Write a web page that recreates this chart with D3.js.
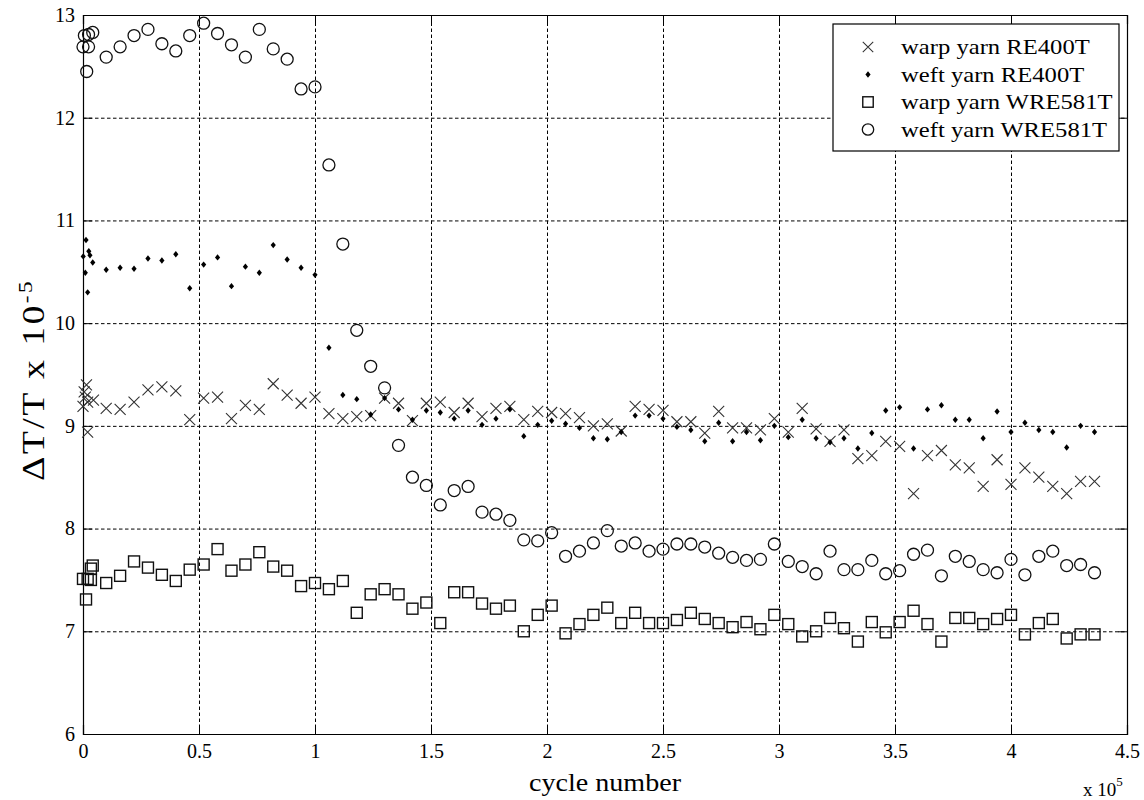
<!DOCTYPE html>
<html>
<head>
<meta charset="utf-8">
<script src="https://cdn.jsdelivr.net/npm/d3@7"></script>
<style>
  body { margin: 0; background: #fff; }
  svg { display: block; }
  svg text { font-family: "Liberation Serif", "Times New Roman", Times, serif; fill: #000; }
  .grid line { stroke: #000; stroke-dasharray: 3.5,2.5; }
  .grid path { display: none; }
  .axis path, .axis line { stroke: #000; }
</style>
</head>
<body>
<svg id="chart" width="1144" height="800"></svg>
<script>
// regular sampling, cycle number in units of 1e5
var cycles = [0.10, 0.16, 0.22, 0.28, 0.34, 0.40, 0.46, 0.52, 0.58, 0.64, 0.70, 0.76,
  0.82, 0.88, 0.94, 1.00, 1.06, 1.12, 1.18, 1.24, 1.30, 1.36, 1.42, 1.48,
  1.54, 1.60, 1.66, 1.72, 1.78, 1.84, 1.90, 1.96, 2.02, 2.08, 2.14, 2.20,
  2.26, 2.32, 2.38, 2.44, 2.50, 2.56, 2.62, 2.68, 2.74, 2.80, 2.86, 2.92,
  2.98, 3.04, 3.10, 3.16, 3.22, 3.28, 3.34, 3.40, 3.46, 3.52, 3.58, 3.64,
  3.70, 3.76, 3.82, 3.88, 3.94, 4.00, 4.06, 4.12, 4.18, 4.24, 4.30, 4.36];

var warpRE400T = [9.17, 9.16, 9.23, 9.35, 9.38, 9.34, 9.06, 9.27, 9.28, 9.07, 9.20, 9.16,
  9.41, 9.30, 9.22, 9.28, 9.12, 9.07, 9.09, 9.10, 9.27, 9.22, 9.05, 9.22,
  9.23, 9.13, 9.22, 9.09, 9.17, 9.19, 9.06, 9.14, 9.13, 9.12, 9.08, 9.00,
  9.02, 8.95, 9.19, 9.16, 9.15, 9.04, 9.04, 8.93, 9.14, 8.98, 8.98, 8.96,
  9.07, 8.94, 9.17, 8.97, 8.85, 8.96, 8.68, 8.71, 8.85, 8.80, 8.34, 8.71,
  8.76, 8.62, 8.59, 8.41, 8.67, 8.43, 8.59, 8.50, 8.41, 8.34, 8.46, 8.46];

var weftRE400T = [10.52, 10.54, 10.53, 10.63, 10.61, 10.67, 10.34, 10.57, 10.64, 10.36, 10.55, 10.49,
  10.76, 10.62, 10.54, 10.47, 9.76, 9.30, 9.26, 9.11, 9.27, 9.16, 9.06, 9.15,
  9.13, 9.07, 9.15, 9.01, 9.07, 9.16, 8.90, 9.01, 9.05, 9.02, 8.98, 8.88,
  8.87, 8.94, 9.10, 9.10, 9.07, 8.99, 8.96, 8.85, 9.03, 8.85, 8.94, 8.86,
  9.00, 8.89, 9.06, 8.88, 8.84, 8.88, 8.78, 8.93, 9.15, 9.18, 8.78, 9.16,
  9.20, 9.06, 9.06, 8.88, 9.14, 8.94, 9.03, 8.96, 8.94, 8.79, 9.00, 8.94];

var warpWRE581T = [7.47, 7.54, 7.68, 7.62, 7.55, 7.49, 7.60, 7.65, 7.80, 7.59, 7.65, 7.77,
  7.63, 7.59, 7.44, 7.47, 7.41, 7.49, 7.18, 7.36, 7.41, 7.36, 7.22, 7.28,
  7.08, 7.38, 7.38, 7.27, 7.22, 7.25, 7.00, 7.16, 7.25, 6.98, 7.07, 7.16,
  7.23, 7.08, 7.18, 7.08, 7.08, 7.11, 7.18, 7.12, 7.08, 7.04, 7.09, 7.02,
  7.16, 7.07, 6.95, 7.00, 7.13, 7.03, 6.90, 7.09, 6.99, 7.09, 7.20, 7.07,
  6.90, 7.13, 7.13, 7.07, 7.12, 7.16, 6.97, 7.08, 7.12, 6.93, 6.97, 6.97];

var weftWRE581T = [12.59, 12.69, 12.80, 12.86, 12.72, 12.65, 12.80, 12.92, 12.82, 12.71, 12.59, 12.86,
  12.67, 12.57, 12.28, 12.30, 11.54, 10.77, 9.93, 9.58, 9.37, 8.81, 8.50, 8.42,
  8.23, 8.37, 8.41, 8.16, 8.14, 8.08, 7.89, 7.88, 7.96, 7.73, 7.78, 7.86,
  7.98, 7.83, 7.86, 7.78, 7.80, 7.85, 7.85, 7.82, 7.76, 7.72, 7.69, 7.70,
  7.85, 7.68, 7.63, 7.56, 7.78, 7.60, 7.60, 7.69, 7.56, 7.59, 7.75, 7.79,
  7.54, 7.73, 7.68, 7.60, 7.57, 7.70, 7.55, 7.73, 7.78, 7.64, 7.65, 7.57];

// first few cycles, measured more densely
var warpRE400TEarlyX = [0.005, 0.015, 0.010, 0.020, 0.000, 0.045, 0.020];
var warpRE400TEarlyY = [9.33, 9.40, 9.28, 9.23, 9.19, 9.25, 8.94];
var weftRE400TEarlyX = [0.013, 0.025, 0.030, 0.001, 0.042, 0.010, 0.020];
var weftRE400TEarlyY = [10.81, 10.70, 10.66, 10.65, 10.59, 10.49, 10.30];
var warpWRE581TEarlyX = [0.000, 0.013, 0.020, 0.034, 0.034, 0.042];
var warpWRE581TEarlyY = [7.51, 7.31, 7.51, 7.50, 7.61, 7.64];
var weftWRE581TEarlyX = [0.000, 0.006, 0.016, 0.024, 0.024, 0.042];
var weftWRE581TEarlyY = [12.69, 12.80, 12.45, 12.69, 12.81, 12.83];

var xTicks = [0, 0.5, 1, 1.5, 2, 2.5, 3, 3.5, 4, 4.5];
var yTicks = [6, 7, 8, 9, 10, 11, 12, 13];
var seriesNames = ['warp yarn RE400T', 'weft yarn RE400T', 'warp yarn WRE581T', 'weft yarn WRE581T'];

function points(earlyX, earlyY, values) {
  var pts = earlyX.map(function(x, i) { return {x: x, y: earlyY[i]}; });
  return pts.concat(values.map(function(v, i) { return {x: cycles[i], y: v}; }));
}

var series = [
  {name: seriesNames[0], marker: 'cross', data: points(warpRE400TEarlyX, warpRE400TEarlyY, warpRE400T)},
  {name: seriesNames[1], marker: 'diamond', data: points(weftRE400TEarlyX, weftRE400TEarlyY, weftRE400T)},
  {name: seriesNames[2], marker: 'square', data: points(warpWRE581TEarlyX, warpWRE581TEarlyY, warpWRE581T)},
  {name: seriesNames[3], marker: 'circle', data: points(weftWRE581TEarlyX, weftWRE581TEarlyY, weftWRE581T)}
];

var svg = d3.select('#chart');
var margin = {left: 83, top: 15, right: 17, bottom: 66};
var width = 1144 - margin.left - margin.right;
var height = 800 - margin.top - margin.bottom;

var x = d3.scaleLinear().domain([0, 4.5]).range([0, width]);
var y = d3.scaleLinear().domain([6, 13]).range([height, 0]);

var g = svg.append('g')
  .attr('transform', 'translate(' + margin.left + ',' + margin.top + ')');

// dotted grid
g.append('g')
  .attr('class', 'grid')
  .attr('transform', 'translate(0,' + height + ')')
  .call(d3.axisBottom(x).tickValues(xTicks).tickSize(-height).tickFormat(''));
g.append('g')
  .attr('class', 'grid')
  .call(d3.axisLeft(y).tickValues(yTicks).tickSize(-width).tickFormat(''));

// box with inward ticks on all sides
var fmt = d3.format('');
g.append('g')
  .attr('class', 'axis')
  .attr('transform', 'translate(0,' + height + ')')
  .call(d3.axisBottom(x).tickValues(xTicks).tickSize(-9).tickPadding(10).tickFormat(fmt));
g.append('g')
  .attr('class', 'axis')
  .call(d3.axisTop(x).tickValues(xTicks).tickSize(-9).tickFormat(''));
g.append('g')
  .attr('class', 'axis')
  .call(d3.axisLeft(y).tickValues(yTicks).tickSize(-9).tickPadding(8).tickFormat(fmt));
g.append('g')
  .attr('class', 'axis')
  .attr('transform', 'translate(' + width + ',0)')
  .call(d3.axisRight(y).tickValues(yTicks).tickSize(-9).tickFormat(''));

svg.selectAll('.axis').attr('font-family', null);
svg.selectAll('.axis path').attr('stroke-width', 1.2);
svg.selectAll('.axis text')
  .attr('fill', '#000')
  .style('font-size', '20px');

// markers
var crossPath = 'M-5.5,-5.5L5.5,5.5M-5.5,5.5L5.5,-5.5';
var diamondPath = 'M0,-3.2L2.6,0L0,3.2L-2.6,0Z';

function drawMarker(sel, type, scale) {
  scale = scale || 1;
  if (type === 'cross') {
    sel.append('path').attr('d', crossPath)
      .attr('transform', 'scale(' + scale + ')')
      .attr('fill', 'none').attr('stroke', '#333').attr('stroke-width', 1.1);
  } else if (type === 'diamond') {
    sel.append('path').attr('d', diamondPath).attr('fill', '#000');
  } else if (type === 'square') {
    sel.append('rect')
      .attr('x', -5.5 * scale).attr('y', -5.5 * scale)
      .attr('width', 11 * scale).attr('height', 11 * scale)
      .attr('fill', 'none').attr('stroke', '#111').attr('stroke-width', 1.4);
  } else {
    sel.append('circle').attr('r', 6 * scale)
      .attr('fill', 'none').attr('stroke', '#111').attr('stroke-width', 1.3);
  }
}

var plot = g.append('g').attr('class', 'points');
series.forEach(function(s) {
  plot.append('g')
    .attr('class', 'series')
    .selectAll('g')
    .data(s.data)
    .enter()
    .append('g')
    .attr('transform', function(d) {
      return 'translate(' + x(d.x) + ',' + y(d.y) + ')';
    })
    .each(function() {
      drawMarker(d3.select(this), s.marker);
    });
});

// legend
var legend = svg.append('g')
  .attr('class', 'legend')
  .attr('transform', 'translate(833,24)');
legend.append('rect')
  .attr('width', 286)
  .attr('height', 127)
  .attr('fill', '#fff')
  .attr('stroke', '#000')
  .attr('stroke-width', 1.2);
var items = legend.selectAll('g.item')
  .data(series)
  .enter()
  .append('g')
  .attr('class', 'item')
  .attr('transform', function(d, i) { return 'translate(0,' + (23 + i * 27.5) + ')'; });
items.each(function(d) {
  var m = d3.select(this).append('g').attr('transform', 'translate(35,0)');
  drawMarker(m, d.marker, 0.95);
});
items.append('text')
  .attr('transform', 'translate(68,7) scale(1.12,1)')
  .style('font-size', '22px')
  .text(function(d) { return d.name; });

// axis labels
svg.append('text')
  .attr('transform', 'translate(' + (margin.left + width / 2) + ',791) scale(1.08,1)')
  .attr('text-anchor', 'middle')
  .style('font-size', '26px')
  .text('cycle number');

var mult = svg.append('text')
  .attr('x', 1083)
  .attr('y', 796)
  .style('font-size', '19px');
mult.append('tspan').text('x 10');
mult.append('tspan').attr('dy', -10).style('font-size', '13px').text('5');

var ylab = svg.append('text')
  .attr('transform', 'translate(44,380) rotate(-90) scale(1.22,1)')
  .attr('text-anchor', 'middle')
  .style('font-size', '31px')
  .style('letter-spacing', '2px');
ylab.append('tspan').text('\u0394T/T x 10');
ylab.append('tspan').attr('dy', -12).style('font-size', '19px').text('-5');
</script>
</body>
</html>
